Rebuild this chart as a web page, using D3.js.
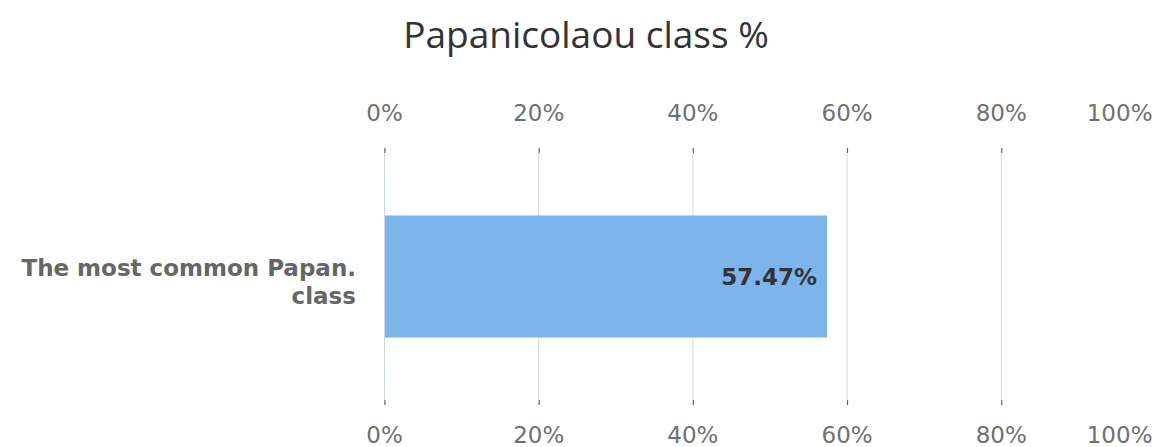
<!DOCTYPE html>
<html>
<head>
<meta charset="utf-8">
<script src="https://cdn.jsdelivr.net/npm/d3@7"></script>
<style>
body { margin: 0; background: #fff; }
svg { display: block; }
</style>
</head>
<body>
<svg></svg>
<script>
// ================= DATA =================
var categories = ["The most common Papan. class"];
var values = [57.47];
var tickValues = [0, 20, 40, 60, 80, 100];
var title = "Papanicolaou class %";

function draw() {
// ================= CANVAS =================
var width = 1154, height = 447;
var plotLeft = 384, plotRight = 1155, plotTop = 148, plotBottom = 405;

var svg = d3.select("svg").attr("width", width).attr("height", height);

var xs = d3.scaleLinear().domain([0, 100]).range([plotLeft, plotRight]);
var ys = d3.scaleBand().domain(categories).range([plotTop, plotBottom]).padding(0.356);

// title
svg.append("text")
    .attr("x", 586).attr("y", 48)
    .attr("text-anchor", "middle")
    .attr("font-family", "Open Sans")
    .attr("font-size", 37)
    .attr("fill", "#333")
    .text(title);

// grid lines
svg.append("g").selectAll("line")
    .data(tickValues.slice(1))
    .enter().append("line")
    .attr("x1", d => xs(d) + 0.5).attr("x2", d => xs(d) + 0.5)
    .attr("y1", plotTop).attr("y2", plotBottom)
    .attr("stroke", "#d9d9d9").attr("stroke-width", 1);

// axis line at 0
svg.append("line")
    .attr("x1", xs(0) + 0.5).attr("x2", xs(0) + 0.5)
    .attr("y1", plotTop).attr("y2", plotBottom)
    .attr("stroke", "#ccd6eb");

// ================= AXES =================
function styleAxis(g) {
    g.select(".domain").remove();
    g.selectAll(".tick line").attr("stroke", "#555").attr("transform", "translate(0.5,0)");
    g.selectAll(".tick text")
        .attr("font-family", "DejaVu Sans")
        .attr("font-size", 23)
        .attr("fill", "#707070");
    // keep last label inside the canvas
    g.selectAll(".tick text").filter(d => d === 100)
        .attr("text-anchor", "end")
        .attr("x", 1152 - xs(100));
}

svg.append("g")
    .attr("transform", "translate(0," + plotTop + ")")
    .call(d3.axisTop(xs).tickValues(tickValues).tickFormat(d => d + "%").tickSize(-5).tickPadding(27))
    .call(styleAxis);

svg.append("g")
    .attr("transform", "translate(0," + plotBottom + ")")
    .call(d3.axisBottom(xs).tickValues(tickValues).tickFormat(d => d + "%").tickSize(-5).tickPadding(22))
    .call(styleAxis);

// ================= BARS =================
svg.append("g").selectAll("rect")
    .data(values)
    .enter().append("rect")
    .attr("x", xs(0) + 1)
    .attr("y", (d, i) => ys(categories[i]))
    .attr("width", d => xs(d) - xs(0) - 1)
    .attr("height", ys.bandwidth())
    .attr("fill", "#7cb5ec");

svg.append("g").selectAll("text")
    .data(values)
    .enter().append("text")
    .attr("x", d => xs(d) - 10)
    .attr("y", (d, i) => ys(categories[i]) + ys.bandwidth() / 2)
    .attr("dy", "0.35em")
    .attr("text-anchor", "end")
    .attr("font-family", "DejaVu Sans")
    .attr("font-weight", "bold")
    .attr("font-size", 23)
    .attr("fill", "#333")
    .text(d => d.toFixed(2) + "%");

// category label (wrapped)
var labelLines = ["The most common Papan.", "class"];
var lab = svg.append("text")
    .attr("text-anchor", "end")
    .attr("font-family", "DejaVu Sans")
    .attr("font-weight", "bold")
    .attr("font-size", 23)
    .attr("fill", "#666");
labelLines.forEach((t, i) => {
    lab.append("tspan")
        .attr("x", 356)
        .attr("y", 276 + i * 28)
        .text(t);
});
}
draw();
</script>
</body>
</html>
